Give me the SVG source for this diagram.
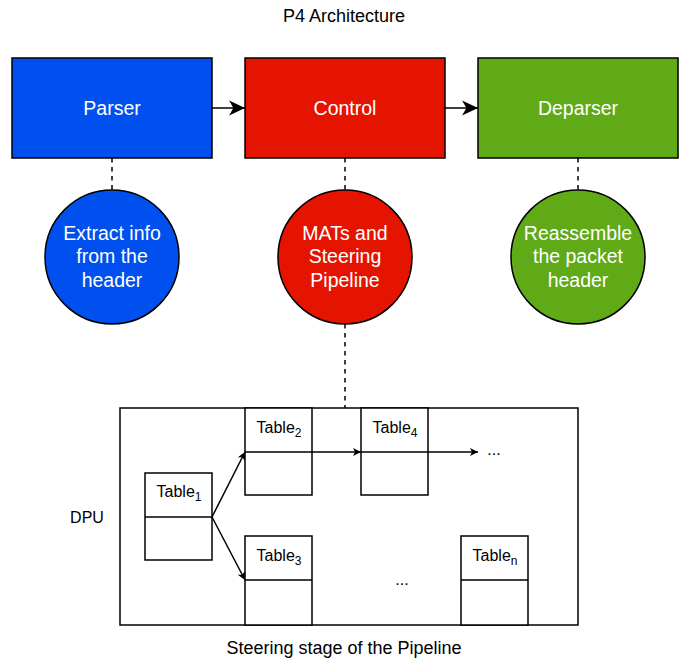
<svg xmlns="http://www.w3.org/2000/svg" width="680" height="663" viewBox="0 0 680 663">
<style>
text{font-family:"Liberation Sans",Arial,sans-serif;}
.lbl{fill:#000;font-size:18px;text-anchor:middle;}
.w{fill:#fff;font-size:19.5px;text-anchor:middle;}
.tb{fill:#000;font-size:16px;text-anchor:middle;}
.sub{font-size:12px;}
.box{stroke:#000;stroke-width:1.5;}
.tbl{fill:#fff;stroke:#000;stroke-width:1.5;}
.ln{fill:none;stroke:#000;stroke-width:1.5;}
.dash{fill:none;stroke:#000;stroke-width:1.5;stroke-dasharray:4.5 4.5;}
</style>
<defs>
<marker id="big" markerUnits="userSpaceOnUse" markerWidth="18" markerHeight="18" viewBox="-16 -8 17 16" refX="0" refY="0" orient="auto">
<path d="M0,0 L-15,-7 L-11,0 L-15,7 Z" fill="#000"/>
</marker>
<marker id="sm" markerUnits="userSpaceOnUse" markerWidth="10" markerHeight="10" viewBox="-9 -5 10 10" refX="0" refY="0" orient="auto">
<path d="M0,0 L-8,-4 L-6,0 L-8,4 Z" fill="#000"/>
</marker>
</defs>

<text class="lbl" x="344" y="22">P4 Architecture</text>

<g id="parser">
<rect class="box" x="12" y="58" width="200" height="100" fill="#0050EF"/>
<text class="w" x="112" y="115">Parser</text>
</g>
<g id="control">
<rect class="box" x="245" y="58" width="200" height="100" fill="#E51400"/>
<text class="w" x="345" y="115">Control</text>
</g>
<g id="deparser">
<rect class="box" x="478" y="58" width="200" height="100" fill="#60A917"/>
<text class="w" x="578" y="115">Deparser</text>
</g>

<g id="extract">
<circle class="box" cx="112" cy="257" r="67" fill="#0050EF"/>
<text class="w" x="112" y="240">Extract info</text>
<text class="w" x="112" y="263">from the</text>
<text class="w" x="112" y="287">header</text>
</g>
<g id="mats">
<circle class="box" cx="345" cy="257" r="67" fill="#E51400"/>
<text class="w" x="345" y="240">MATs and</text>
<text class="w" x="345" y="263">Steering</text>
<text class="w" x="345" y="287">Pipeline</text>
</g>
<g id="reassemble">
<circle class="box" cx="578" cy="257" r="67" fill="#60A917"/>
<text class="w" x="578" y="240">Reassemble</text>
<text class="w" x="578" y="263">the packet</text>
<text class="w" x="578" y="287">header</text>
</g>

<g id="dpu">
<rect x="120" y="408" width="458" height="217" fill="#fff" stroke="#000" stroke-width="1.5"/>
</g>
<text class="tb" x="87" y="523">DPU</text>
<text class="lbl" x="344" y="654">Steering stage of the Pipeline</text>

<g id="table1">
<rect class="tbl" x="145" y="473" width="67" height="87"/>
<line class="ln" x1="145" y1="517" x2="212" y2="517"/>
<text class="tb" x="179" y="497">Table<tspan class="sub" dy="4">1</tspan></text>
</g>
<g id="table2">
<rect class="tbl" x="245" y="408" width="67" height="87"/>
<line class="ln" x1="245" y1="452" x2="312" y2="452"/>
<text class="tb" x="279" y="433">Table<tspan class="sub" dy="4">2</tspan></text>
</g>
<g id="table3">
<rect class="tbl" x="245" y="536" width="67" height="89"/>
<line class="ln" x1="245" y1="580" x2="312" y2="580"/>
<text class="tb" x="279" y="561">Table<tspan class="sub" dy="4">3</tspan></text>
</g>
<g id="table4">
<rect class="tbl" x="361" y="408" width="67" height="87"/>
<line class="ln" x1="361" y1="452" x2="428" y2="452"/>
<text class="tb" x="395" y="433">Table<tspan class="sub" dy="4">4</tspan></text>
</g>
<g id="tablen">
<rect class="tbl" x="461" y="536" width="67" height="89"/>
<line class="ln" x1="461" y1="580" x2="528" y2="580"/>
<text class="tb" x="495" y="561">Table<tspan class="sub" dy="4">n</tspan></text>
</g>
<text class="tb" x="494" y="455">...</text>
<text class="tb" x="402" y="585">...</text>

<g id="connectors">
<line class="ln" x1="212" y1="108" x2="245" y2="108" marker-end="url(#big)"/>
<line class="ln" x1="445" y1="108" x2="478" y2="108" marker-end="url(#big)"/>
<line class="dash" x1="112" y1="158" x2="112" y2="190"/>
<line class="dash" x1="345" y1="158" x2="345" y2="190"/>
<line class="dash" x1="578" y1="158" x2="578" y2="190"/>
<line class="dash" x1="345" y1="324" x2="345" y2="408"/>
<line class="ln" x1="212" y1="517" x2="245" y2="452" marker-end="url(#sm)"/>
<line class="ln" x1="212" y1="517" x2="245" y2="580" marker-end="url(#sm)"/>
<line class="ln" x1="312" y1="452" x2="361" y2="452" marker-end="url(#sm)"/>
<line class="ln" x1="428" y1="452" x2="478" y2="452" marker-end="url(#sm)"/>
</g>
</svg>
